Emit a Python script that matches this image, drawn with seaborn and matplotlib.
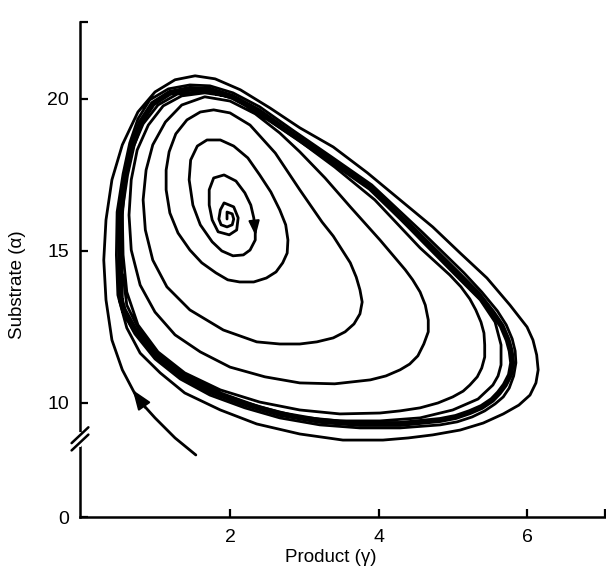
import matplotlib
matplotlib.use("Agg")
import matplotlib.pyplot as plt
import seaborn as sns

# ---------------- data (data units: product γ, substrate α) ----------------
# Outer trajectory: starts at bottom-left, winds onto the limit cycle from outside
outer_pts = [
    (1.54, 8.29), (1.26, 8.85), (0.99, 9.51), (0.75, 10.16), (0.55, 11.09), (0.41, 12.07),
    (0.33, 13.39), (0.30, 14.70), (0.33, 16.02), (0.41, 17.34), (0.55, 18.49), (0.76, 19.57),
    (0.99, 20.23), (1.26, 20.63), (1.53, 20.76), (1.80, 20.66), (2.14, 20.30), (2.54, 19.70),
    (2.94, 19.05), (3.39, 18.42), (3.85, 17.57), (4.29, 16.68), (4.73, 15.79), (5.10, 14.93),
    (5.46, 14.11), (5.77, 13.22), (6.00, 12.50), (6.08, 12.07), (6.13, 11.58), (6.15, 11.09),
    (6.12, 10.66), (6.04, 10.26), (5.89, 9.93), (5.68, 9.64), (5.41, 9.34), (5.10, 9.11),
    (4.73, 8.95), (4.40, 8.85), (4.06, 8.78), (3.52, 8.78), (2.94, 8.98), (2.36, 9.31),
    (1.87, 9.77), (1.39, 10.33), (1.06, 10.99), (0.79, 11.64), (0.61, 12.47), (0.49, 13.55),
    (0.47, 14.87), (0.48, 16.28), (0.56, 17.53), (0.65, 18.55), (0.76, 19.34), (0.92, 19.97),
    (1.17, 20.33), (1.46, 20.46), (1.73, 20.43), (2.04, 20.20), (2.40, 19.74), (2.84, 18.98),
    (3.37, 18.09), (3.91, 17.17), (4.60, 15.59), (5.15, 14.28), (5.39, 13.65), (5.60, 13.03),
    (5.72, 12.57), (5.80, 12.11), (5.84, 11.71), (5.85, 11.32), (5.82, 10.89), (5.76, 10.49),
    (5.68, 10.20), (5.57, 9.97), (5.43, 9.74), (5.26, 9.54), (5.06, 9.38), (4.83, 9.28),
    (4.29, 9.18), (3.75, 9.18), (3.21, 9.28), (2.67, 9.51), (2.20, 9.84), (1.73, 10.26),
    (1.33, 10.79), (0.99, 11.45), (0.72, 12.27), (0.56, 12.99), (0.51, 13.72),
]

# Inner trajectory: spirals outward from the focus near (2, 16)
inner_pts = [
    (1.96, 16.05), (1.96, 16.28), (2.03, 16.22), (2.05, 16.05), (2.03, 15.86), (1.96, 15.79),
    (1.88, 15.86), (1.85, 16.05), (1.87, 16.35),
    (1.92, 16.58), (2.05, 16.45), (2.11, 16.09), (2.09, 15.69), (1.99, 15.53), (1.84, 15.63),
    (1.76, 16.02), (1.72, 16.51), (1.72, 17.01),
    (1.78, 17.40), (1.92, 17.50), (2.08, 17.30), (2.20, 16.91), (2.28, 16.51), (2.32, 16.09),
    (2.34, 15.69), (2.34, 15.36), (2.27, 15.03), (2.18, 14.87), (2.04, 14.84), (1.89, 15.00),
    (1.76, 15.30), (1.60, 15.86), (1.50, 16.51), (1.45, 17.34), (1.47, 17.99), (1.56, 18.45),
    (1.69, 18.65), (1.87, 18.65), (2.05, 18.45), (2.24, 18.06), (2.40, 17.50), (2.55, 16.94),
    (2.67, 16.35), (2.75, 15.86), (2.78, 15.36), (2.77, 14.93), (2.71, 14.61), (2.62, 14.31),
    (2.49, 14.11), (2.32, 13.98), (2.13, 13.98), (1.97, 14.05), (1.81, 14.28), (1.62, 14.61),
    (1.46, 15.03), (1.30, 15.59), (1.19, 16.25), (1.14, 17.01), (1.14, 17.66), (1.18, 18.26),
    (1.27, 18.85), (1.42, 19.31),
    (1.60, 19.57), (1.78, 19.64), (2.00, 19.54), (2.27, 19.14), (2.61, 18.22), (2.94, 17.01),
    (3.24, 15.95), (3.39, 15.49), (3.51, 15.03), (3.62, 14.61), (3.70, 14.14), (3.75, 13.72),
    (3.78, 13.32), (3.75, 12.93), (3.67, 12.60), (3.55, 12.34), (3.39, 12.14), (3.17, 12.01),
    (2.94, 11.94), (2.67, 11.94), (2.36, 12.01), (1.91, 12.40), (1.46, 13.06), (1.15, 13.82),
    (0.96, 14.70), (0.86, 15.69), (0.83, 16.68), (0.87, 17.66), (0.96, 18.49), (1.13, 19.24),
    (1.35, 19.80),
    (1.66, 20.07), (2.00, 19.93), (2.34, 19.51), (2.67, 18.88), (2.94, 18.26), (3.28, 17.40),
    (3.62, 16.45), (4.02, 15.36), (4.36, 14.38), (4.46, 14.05), (4.56, 13.65), (4.63, 13.22),
    (4.67, 12.73), (4.67, 12.34), (4.61, 11.94), (4.53, 11.55), (4.42, 11.28), (4.29, 11.09),
    (4.10, 10.89), (3.89, 10.76), (3.41, 10.63), (2.94, 10.66), (2.47, 10.86), (2.00, 11.18),
    (1.60, 11.68), (1.26, 12.24), (0.99, 12.99), (0.79, 13.88), (0.67, 15.03), (0.64, 16.18),
    (0.67, 17.34), (0.75, 18.32), (0.90, 19.14), (1.10, 19.77), (1.35, 20.10),
    (1.66, 20.20), (2.03, 20.07), (2.43, 19.44), (2.88, 18.72), (3.41, 17.76), (3.95, 16.68),
    (4.56, 15.10), (4.96, 14.21), (5.11, 13.82), (5.23, 13.42), (5.31, 13.06), (5.38, 12.66),
    (5.42, 12.30), (5.43, 11.91), (5.43, 11.51), (5.39, 11.15), (5.33, 10.86), (5.23, 10.59),
    (5.14, 10.39), (5.00, 10.20), (4.80, 10.00), (4.56, 9.84), (4.29, 9.74), (4.02, 9.67),
    (3.48, 9.64), (2.94, 9.77), (2.40, 10.03), (1.87, 10.43), (1.39, 10.99), (1.03, 11.68),
    (0.76, 12.57), (0.61, 13.65), (0.56, 14.87), (0.55, 16.18), (0.59, 17.34), (0.68, 18.32),
    (0.83, 19.18), (1.03, 19.80), (1.29, 20.16),
    (1.66, 20.26), (2.03, 20.03), (2.43, 19.54), (2.85, 18.82), (3.37, 17.93), (3.93, 16.97),
    (4.57, 15.36), (5.10, 14.05), (5.37, 13.39), (5.57, 12.66), (5.65, 11.91), (5.65, 11.25),
    (5.61, 10.89), (5.54, 10.59), (5.34, 10.13), (5.00, 9.77), (4.56, 9.51), (4.02, 9.41),
    (3.48, 9.41), (2.94, 9.54), (2.40, 9.87), (1.87, 10.33), (1.39, 10.92), (1.03, 11.61),
    (0.76, 12.47), (0.61, 13.22), (0.56, 14.21),
]

# Limit cycle (thick closed curve)
cycle_pts = [
    (0.53, 13.39), (0.52, 15.03), (0.53, 16.35), (0.60, 17.50), (0.69, 18.49), (0.80, 19.24),
    (0.96, 19.84), (1.19, 20.20), (1.46, 20.33), (1.73, 20.30), (2.03, 20.07), (2.38, 19.61),
    (2.81, 18.88), (3.35, 17.99), (3.89, 17.07), (4.56, 15.49), (5.10, 14.18), (5.34, 13.59),
    (5.54, 12.96), (5.66, 12.53), (5.74, 12.07), (5.78, 11.71), (5.80, 11.32), (5.77, 10.92),
    (5.70, 10.59), (5.62, 10.33), (5.53, 10.10), (5.39, 9.87), (5.23, 9.70), (5.04, 9.54),
    (4.83, 9.44), (4.29, 9.31), (3.75, 9.31), (3.21, 9.41), (2.67, 9.64), (2.20, 9.97),
    (1.73, 10.39), (1.33, 10.92), (0.99, 11.58), (0.72, 12.40), (0.57, 13.06), (0.53, 13.39),
]

outer_x, outer_y = [p[0] for p in outer_pts], [p[1] for p in outer_pts]
inner_x, inner_y = [p[0] for p in inner_pts], [p[1] for p in inner_pts]
cycle_x, cycle_y = [p[0] for p in cycle_pts], [p[1] for p in cycle_pts]

# direction arrows: (tail, head, size)
arrows = [((0.86, 9.84), (0.69, 10.43), 15), ((2.33, 15.86), (2.345, 15.50), 11)]

x_ticks = [2, 4, 6]
y_ticks = [10, 15, 20]
x_min, x_max = -0.02, 7.05
y_min, y_max = 6.25, 22.53
y_zero_label = "0"

# ---------------- drawing ----------------
sns.set_theme(style="ticks", rc={"axes.edgecolor": "black", "xtick.color": "black",
                                 "ytick.color": "black", "text.color": "black",
                                 "axes.labelcolor": "black"})
plt.rcParams['font.family'] = ['Liberation Sans', 'DejaVu Sans']

fig = plt.figure(figsize=(6.06, 5.72), dpi=100)
ax = fig.add_axes([80 / 606, 55 / 572, 525 / 606, 495 / 572])

line_kw = dict(sort=False, estimator=None, ax=ax, color="black",
               solid_capstyle="round", solid_joinstyle="round")
sns.lineplot(x=cycle_x, y=cycle_y, linewidth=4.2, **line_kw)
sns.lineplot(x=outer_x, y=outer_y, linewidth=2.0, **line_kw)
sns.lineplot(x=inner_x, y=inner_y, linewidth=2.0, **line_kw)

for tail, head, size in arrows:
    ax.annotate("", xy=head, xytext=tail,
                arrowprops=dict(arrowstyle="-|>,head_length=0.8,head_width=0.3",
                                color="black", lw=1.5, shrinkA=0, shrinkB=0,
                                mutation_scale=size))

ax.set_xlim(x_min, x_max)
ax.set_ylim(y_min, y_max)
ax.set_xticks(x_ticks + [x_max])
ax.set_xticklabels([str(t) for t in x_ticks] + [""])
ax.set_yticks([y_min] + y_ticks + [y_max])
ax.set_yticklabels([y_zero_label] + [str(t) for t in y_ticks] + [""])
ax.tick_params(direction="in", length=6, width=1.6, labelsize=14)
ax.tick_params(axis="x", pad=9)
ax.tick_params(axis="y", pad=8)

for s in ["top", "right"]:
    ax.spines[s].set_visible(False)
for s in ["left", "bottom"]:
    ax.spines[s].set_linewidth(1.8)

ax.set_xlabel("Product (γ)", fontsize=13.5)
ax.set_ylabel("Substrate (α)", fontsize=13.5)
ax.xaxis.set_label_coords(0.478, -0.064)
ax.yaxis.set_label_coords(-0.102, 0.47)

# axis-break marks on the y axis
trans = ax.get_yaxis_transform()
ax.plot([0, 0], [8.62, 8.98], transform=trans, color="white", lw=3, clip_on=False, zorder=5)
for off in (0.0, -0.24):
    ax.plot([-0.016, 0.016], [8.68 + off, 9.2 + off], transform=trans,
            color="black", lw=1.8, clip_on=False, zorder=6)

fig.savefig("out.png", dpi=100)
